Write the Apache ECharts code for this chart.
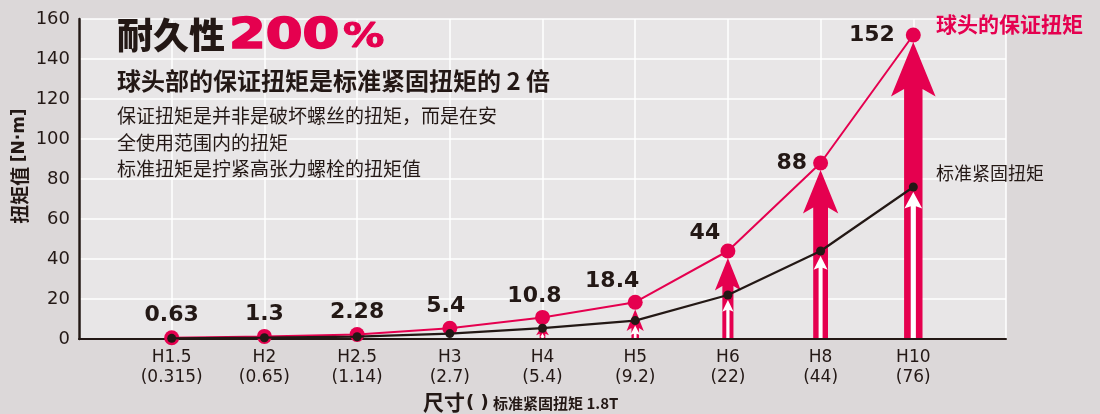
<!DOCTYPE html>
<html>
<head>
<meta charset="utf-8">
<script src="https://cdn.jsdelivr.net/npm/echarts@6/dist/echarts.min.js"></script>
<style>
html,body{margin:0;padding:0;background:#dcd8d9;}
#c{width:1100px;height:414px;}
</style>
</head>
<body>
<div id="c"></div>
<script>
// ---- data ----
const categories = ['H1.5', 'H2', 'H2.5', 'H3', 'H4', 'H5', 'H6', 'H8', 'H10'];
const standardTorque = [0.315, 0.65, 1.14, 2.7, 5.4, 9.2, 22, 44, 76];
const guaranteedTorque = [0.63, 1.3, 2.28, 5.4, 10.8, 18.4, 44, 88, 152];
const yMin = 0, yMax = 160, yInterval = 20;

const PINK = '#e5004f';
const DARK = '#231815';
const LATIN = '"DejaVu Sans", sans-serif';
const CJK = '"Noto Sans CJK SC", sans-serif';

const chart = echarts.init(document.getElementById('c'), null, {renderer: 'canvas'});

function arrowPoints(cx, tipY, baseY, headH, headW, bodyW) {
  const hb = tipY + headH;
  const join = tipY + headH * 0.86;
  return [
    [cx - bodyW / 2, baseY], [cx - bodyW / 2, join], [cx - headW / 2, hb],
    [cx, tipY],
    [cx + headW / 2, hb], [cx + bodyW / 2, join], [cx + bodyW / 2, baseY]
  ];
}

const pinkArrowData = guaranteedTorque.map((v, i) => [i + 1, v]);
const whiteArrowData = standardTorque.map((v, i) => [i + 1, v]);

function labelFor(i) {
  if (i >= 7) return {position: 'left', distance: i === 8 ? 11 : 6};
  if (i >= 5) return {position: 'top', distance: 4, offset: [-23, i === 5 ? 2 : 5]};
  if (i >= 3) return {position: 'top', distance: 3, offset: [i === 3 ? -4 : -8, 0]};
  return {position: 'top', distance: 4};
}

const option = {
  backgroundColor: '#dcd8d9',
  animation: false,
  grid: {left: 79, right: 94, top: 19, bottom: 75, show: true, backgroundColor: '#e8e6e7', borderWidth: 0},
  xAxis: {
    type: 'value', min: 0, max: categories.length + 1, interval: 1,
    axisLine: {show: true, lineStyle: {color: DARK, width: 2}},
    axisTick: {show: false},
    splitLine: {show: true, lineStyle: {color: '#ffffff', width: 1.5}},
    axisLabel: {
      margin: 9, color: DARK, fontFamily: LATIN, fontSize: 17, lineHeight: 20,
      formatter: function (val) {
        const i = Math.round(val) - 1;
        if (i < 0 || i >= categories.length) return '';
        return categories[i] + '\n(' + standardTorque[i] + ')';
      }
    }
  },
  yAxis: {
    type: 'value', min: yMin, max: yMax, interval: yInterval,
    axisLine: {show: true, lineStyle: {color: DARK, width: 2.5}},
    axisTick: {show: false},
    splitLine: {show: true, lineStyle: {color: '#ffffff', width: 1.5}},
    axisLabel: {margin: 9, color: DARK, fontFamily: LATIN, fontSize: 18}
  },
  series: [
    {
      type: 'custom', z: 2, data: pinkArrowData,
      renderItem: function (params, api) {
        const pt = api.coord([api.value(0), api.value(1)]);
        const base = api.coord([api.value(0), 0]);
        const tipY = pt[1] + 7;
        const L = base[1] - tipY;
        if (L < 8) return null;
        const headH = Math.min(5.6 * Math.pow(L, 0.4), L * 0.75);
        const headW = 4.2 * Math.pow(L, 0.415);
        const bodyW = 2 * Math.pow(L, 0.39);
        return {
          type: 'polygon',
          shape: {points: arrowPoints(pt[0], tipY, base[1] - 1, headH, headW, bodyW)},
          style: {fill: PINK}
        };
      }
    },
    {
      type: 'custom', z: 3, data: whiteArrowData,
      renderItem: function (params, api) {
        const pt = api.coord([api.value(0), api.value(1)]);
        const base = api.coord([api.value(0), 0]);
        const tipY = pt[1] + 5;
        const L = base[1] - tipY;
        if (L < 5) return null;
        const headH = Math.min(10 + 0.045 * L, L * 0.7);
        const headW = Math.min(9 + 0.06 * L, headH * 1.1);
        return {
          type: 'polygon',
          shape: {points: arrowPoints(pt[0], tipY, base[1] - 1, headH, headW, 2.5 + 0.018 * L)},
          style: {fill: '#ffffff'}
        };
      }
    },
    {
      type: 'line', z: 4,
      data: guaranteedTorque.map((v, i) => ({value: [i + 1, v], label: labelFor(i)})),
      symbol: 'circle', symbolSize: 15,
      itemStyle: {color: PINK},
      lineStyle: {color: PINK, width: 2},
      label: {
        show: true, color: DARK, fontFamily: LATIN, fontWeight: 'bold', fontSize: 22,
        formatter: function (p) { return String(guaranteedTorque[p.dataIndex]); }
      }
    },
    {
      type: 'line', z: 5,
      data: standardTorque.map((v, i) => [i + 1, v]),
      symbol: 'circle', symbolSize: 9,
      itemStyle: {color: DARK},
      lineStyle: {color: DARK, width: 2.2}
    }
  ],
  graphic: [
    {type: 'text', z: 100, x: 117, y: 35, style: {text: '耐久性', font: '900 36px ' + CJK, fill: DARK, textVerticalAlign: 'middle'}},
    {type: 'text', z: 100, x: 229, y: 58, scaleX: 1.32, scaleY: 1.05, style: {text: '200', font: 'bold 40px ' + LATIN, fill: PINK, stroke: PINK, lineWidth: 1.6, textVerticalAlign: 'bottom'}},
    {type: 'text', z: 100, x: 343, y: 55, scaleX: 1.25, style: {text: '%', font: 'bold 33px ' + LATIN, fill: PINK, stroke: PINK, lineWidth: 1, textVerticalAlign: 'bottom'}},
    {type: 'text', z: 100, x: 117, y: 81, style: {text: '球头部的保证扭矩是标准紧固扭矩的 2 倍', font: 'bold 24px ' + CJK, fill: DARK, textVerticalAlign: 'middle'}},
    {type: 'text', z: 100, x: 117, y: 103, style: {text: '保证扭矩是并非是破坏螺丝的扭矩，而是在安\n全使用范围内的扭矩\n标准扭矩是拧紧高张力螺栓的扭矩值', font: '19px ' + CJK, fill: DARK, lineHeight: 26.5, textVerticalAlign: 'top'}},
    {type: 'text', z: 100, x: 20, y: 166, rotation: Math.PI / 2, style: {
      text: '{a|扭矩值 }{b|[N·m]}', textAlign: 'center', textVerticalAlign: 'middle',
      rich: {
        a: {fontFamily: CJK, fontWeight: 'bold', fontSize: 19, fill: DARK, color: DARK},
        b: {fontFamily: LATIN, fontWeight: 'bold', fontSize: 17, fill: DARK, color: DARK}
      }
    }},
    {type: 'text', z: 100, x: 936, y: 24, style: {text: '球头的保证扭矩', font: 'bold 21px ' + CJK, fill: PINK, textVerticalAlign: 'middle'}},
    {type: 'text', z: 100, x: 936, y: 173, style: {text: '标准紧固扭矩', font: '18px ' + CJK, fill: DARK, textVerticalAlign: 'middle'}},
    {type: 'text', z: 100, x: 423, y: 402, style: {text: '尺寸', font: 'bold 21px ' + CJK, fill: DARK, textVerticalAlign: 'middle'}},
    {type: 'text', z: 100, x: 466, y: 403, style: {text: '( )', font: 'bold 18px ' + LATIN, fill: DARK, textVerticalAlign: 'middle'}},
    {type: 'text', z: 100, x: 493, y: 403, style: {text: '标准紧固扭矩 1.8T', font: 'bold 15px ' + CJK, fill: DARK, textVerticalAlign: 'middle'}}
  ]
};
chart.setOption(option);
</script>
</body>
</html>
